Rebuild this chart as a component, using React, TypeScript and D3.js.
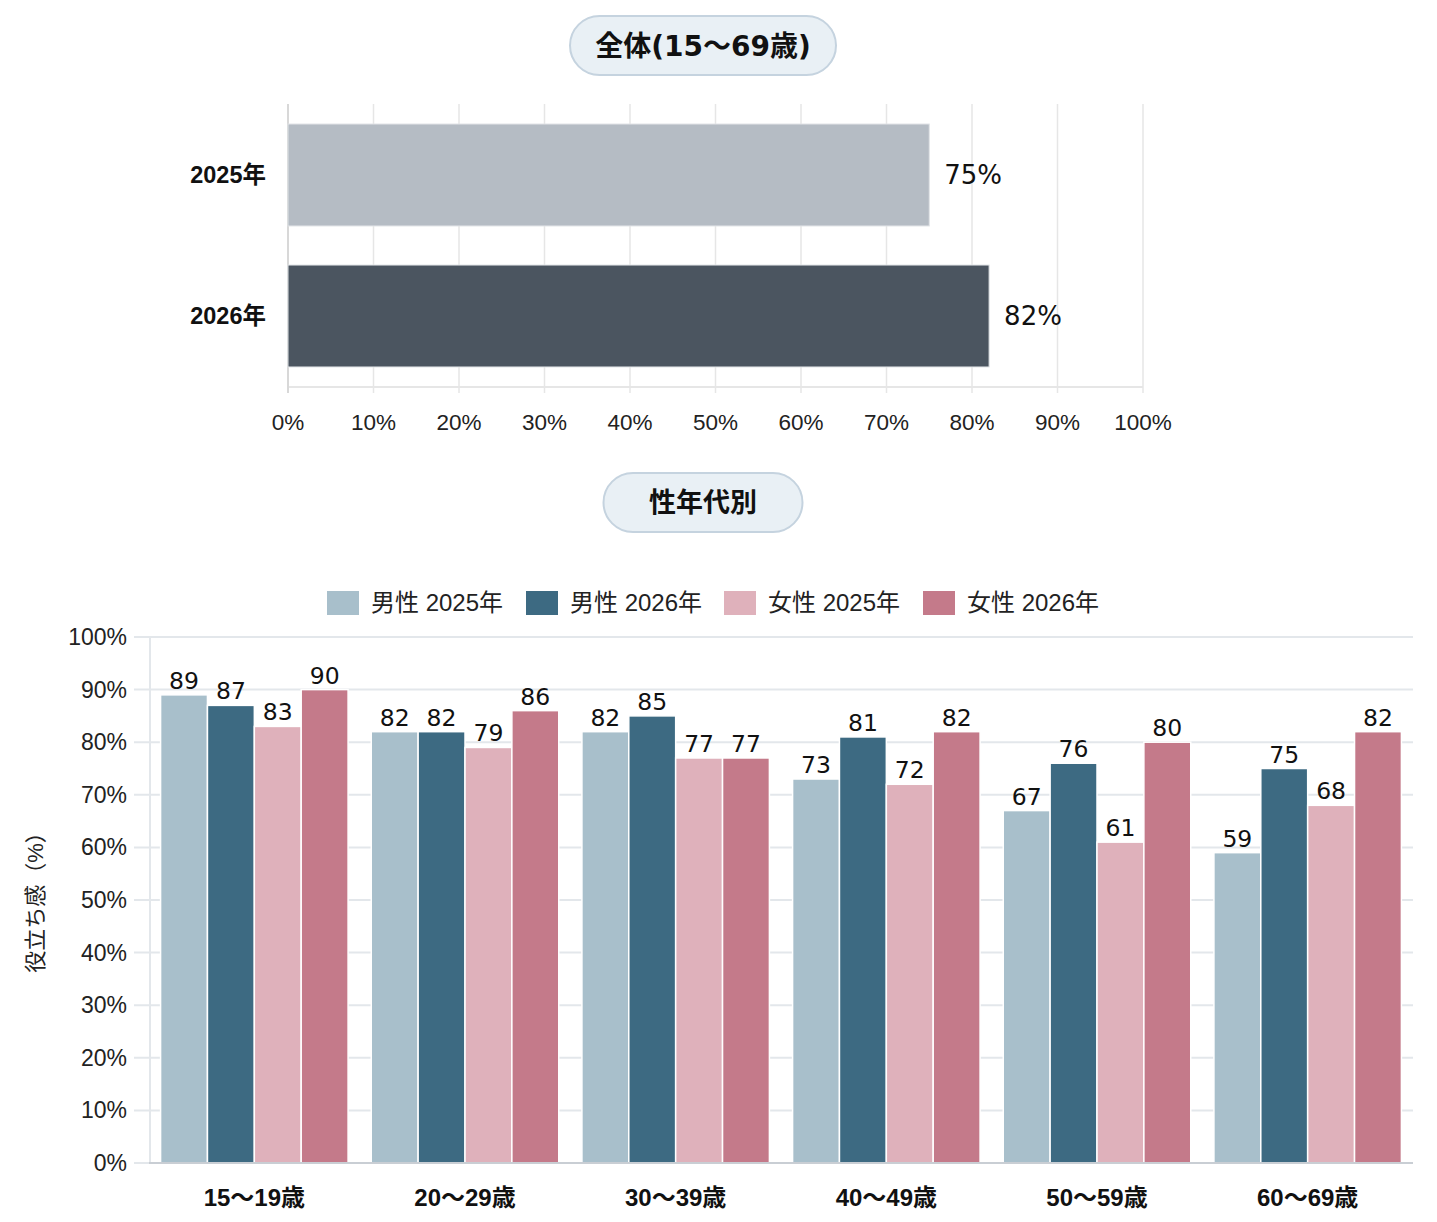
import { useEffect } from "react";
import * as d3 from "d3";

// overall (15-69)
const yearLabels = ["2025年", "2026年"];
const overallValues = [75, 82];
const overallColors = ["#b5bcc4", "#4b5560"];

// by sex & age
const ageGroups = ["15～19歳", "20～29歳", "30～39歳", "40～49歳", "50～59歳", "60～69歳"];
const seriesNames = ["男性 2025年", "男性 2026年", "女性 2025年", "女性 2026年"];
const seriesColors = ["#a8bfcb", "#3d6a82", "#dfb1bb", "#c47a8a"];
const male2025 = [89, 82, 82, 73, 67, 59];
const male2026 = [87, 82, 85, 81, 76, 75];
const female2025 = [83, 79, 77, 72, 61, 68];
const female2026 = [90, 86, 77, 82, 80, 82];
const seriesValues = [male2025, male2026, female2025, female2026];

const percentTicks = [0, 10, 20, 30, 40, 50, 60, 70, 80, 90, 100];

const SANS = "'Liberation Sans', Arial, 'Noto Sans CJK JP', sans-serif";
const TITLE_FONT = "'DejaVu Sans', 'Noto Sans CJK JP', sans-serif";
const VALUE_FONT = "'DejaVu Sans', Verdana, sans-serif";

function Pill({ cx, y, w, h, text, size }: { cx: number; y: number; w: number; h: number; text: string; size: number }) {
  return (
    <g>
      <rect x={cx - w / 2} y={y} width={w} height={h} rx={h / 2} fill="#e9f0f5" stroke="#c5d3df" strokeWidth={2} />
      <text x={cx} y={y + h / 2} dy="0.36em" textAnchor="middle" fontSize={size} fontWeight="bold" fill="#111" fontFamily={TITLE_FONT}>
        {text}
      </text>
    </g>
  );
}

export default function App() {
  useEffect(() => {
    document.body.style.overflow = "hidden";
  }, []);

  // top chart scales
  const xTop = d3.scaleLinear().domain([0, 100]).range([288, 1143]);
  const yTop = d3.scaleBand().domain(yearLabels).range([104, 387]).paddingInner(0.277).paddingOuter(0.142);

  // bottom chart scales
  const yB = d3.scaleLinear().domain([0, 100]).range([1163, 637]);
  const x0 = d3.scaleBand().domain(ageGroups).range([149, 1413]).paddingInner(0.11).paddingOuter(0.055);
  const x1 = d3.scaleBand().domain(seriesNames).range([0, x0.bandwidth()]).padding(0);

  const legendX = [327, 526, 724, 923];

  return (
    <svg width={1437} height={1222} style={{ position: "absolute", left: 0, top: 0, background: "#fff" }}>
      <Pill cx={703} y={16} w={266} h={59} text="全体(15～69歳)" size={28} />

      {/* top grid */}
      {percentTicks.map((t) => (
        <g key={"tg" + t}>
          <line x1={xTop(t)} x2={xTop(t)} y1={104} y2={393} stroke="#e6e6e6" strokeWidth={1.5} />
          <text x={xTop(t)} y={422} dy="0.35em" textAnchor="middle" fontSize={22.5} fill="#222" fontFamily={SANS}>
            {t}%
          </text>
        </g>
      ))}
      <line x1={288} x2={1143} y1={387} y2={387} stroke="#e6e6e6" strokeWidth={2} />
      <line x1={288} x2={288} y1={104} y2={393} stroke="#d8d8d8" strokeWidth={2} />

      {yearLabels.map((yl, i) => (
        <g key={yl}>
          <rect
            x={xTop(0)}
            y={yTop(yl)}
            width={xTop(overallValues[i]) - xTop(0)}
            height={yTop.bandwidth()}
            fill={overallColors[i]}
            stroke="#e0e3e6"
            strokeWidth={1}
          />
          <text x={266} y={(yTop(yl) as number) + yTop.bandwidth() / 2} dy="0.35em" textAnchor="end" fontSize={23.5} fontWeight="bold" fill="#111" fontFamily={SANS}>
            {yl}
          </text>
          <text x={xTop(overallValues[i]) + 15} y={(yTop(yl) as number) + yTop.bandwidth() / 2} dy="0.35em" fontSize={26} fill="#111" fontFamily={VALUE_FONT}>
            {overallValues[i]}%
          </text>
        </g>
      ))}

      <Pill cx={703} y={473} w={199} h={59} text="性年代別" size={27} />

      {/* legend */}
      {seriesNames.map((s, i) => (
        <g key={"lg" + s}>
          <rect x={legendX[i]} y={591} width={32} height={24} fill={seriesColors[i]} />
          <text x={legendX[i] + 44} y={603} dy="0.35em" fontSize={24} fill="#222" fontFamily={SANS}>
            {s}
          </text>
        </g>
      ))}

      {/* bottom grid */}
      {percentTicks.map((t) => (
        <g key={"bg" + t}>
          {t > 0 && <line x1={134} x2={1413} y1={yB(t)} y2={yB(t)} stroke="#e3e7eb" strokeWidth={2} />}
          <text x={127} y={yB(t)} dy="0.35em" textAnchor="end" fontSize={23} fill="#222" fontFamily={SANS}>
            {t}%
          </text>
        </g>
      ))}
      <line x1={150} x2={150} y1={637} y2={1163} stroke="#e3e7eb" strokeWidth={2} />
      <line x1={134} x2={150} y1={1163} y2={1163} stroke="#e3e7eb" strokeWidth={2} />

      {ageGroups.map((g, gi) => (
        <g key={g} transform={`translate(${x0(g)},0)`}>
          {seriesNames.map((s, si) => {
            const v = seriesValues[si][gi];
            const bx = x1(s) as number;
            return (
              <g key={s}>
                <rect x={bx} y={yB(v)} width={x1.bandwidth()} height={yB(0) - yB(v)} fill={seriesColors[si]} stroke="#fff" strokeWidth={1.5} />
                <text x={bx + x1.bandwidth() / 2} y={yB(v) - 6} textAnchor="middle" fontSize={23.5} fill="#111" fontFamily={VALUE_FONT}>
                  {v}
                </text>
              </g>
            );
          })}
          <text x={x0.bandwidth() / 2} y={1198} dy="0.35em" textAnchor="middle" fontSize={24} fontWeight="bold" fill="#111" fontFamily={SANS}>
            {g}
          </text>
        </g>
      ))}
      <line x1={149} x2={1413} y1={1163} y2={1163} stroke="#c9ced4" strokeWidth={2} />

      <text transform="translate(35,897) rotate(-90)" dy="0.35em" textAnchor="middle" fontSize={22} fill="#222" fontFamily={SANS}>
        役立ち感（%）
      </text>
    </svg>
  );
}
